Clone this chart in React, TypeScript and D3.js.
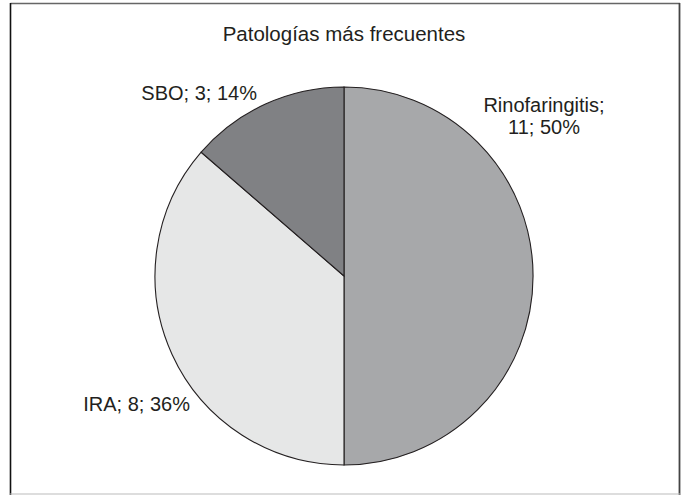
import React from "react";
import * as d3 from "d3";

const categories = ["Rinofaringitis", "IRA", "SBO"];
const values = [11, 8, 3];
const percentLabels = ["50%", "36%", "14%"];
const colors = ["#a7a8aa", "#e6e7e7", "#808184"];
const title = "Patologías más frecuentes";

const W = 686;
const H = 495;

export default function App() {
  const cx = 344;
  const cy = 276;
  const r = 189;
  const pie = d3
    .pie<number>()
    .sort(null)
    .value((d) => d)(values);
  const arc = d3.arc<d3.PieArcDatum<number>>().innerRadius(0).outerRadius(r);

  const font = "'Liberation Sans', Arial, Helvetica, sans-serif";
  const fs = 20;

  return (
    <svg
      width={W}
      height={H}
      style={{ position: "absolute", left: 0, top: 0, background: "#fff" }}
    >
      <rect x={0} y={0} width={W} height={H} fill="#fff" />
      <line x1={10.5} y1={3.5} x2={680} y2={3.5} stroke="#666" strokeWidth={1.5} />
      <line x1={10.5} y1={3} x2={10.5} y2={495} stroke="#111" strokeWidth={1.6} />
      <line x1={679.5} y1={3} x2={679.5} y2={495} stroke="#444" strokeWidth={1.8} />
      <line x1={10} y1={494} x2={680} y2={494} stroke="#bbb" strokeWidth={1.2} />
      <text
        x={344}
        y={41}
        textAnchor="middle"
        fontFamily={font}
        fontSize={20.5}
        fill="#231f20"
      >
        {title}
      </text>
      <g transform={`translate(${cx},${cy})`}>
        {pie.map((p, i) => (
          <path
            key={categories[i]}
            d={arc(p) || ""}
            fill={colors[i]}
            stroke="#231f20"
            strokeWidth={1.1}
          />
        ))}
      </g>
      <g fontFamily={font} fontSize={fs} fill="#231f20">
        <text x={544} y={112} textAnchor="middle">
          <tspan x={544}>{categories[0]};</tspan>
          <tspan x={544} dy={21.5}>
            {values[0]}; {percentLabels[0]}
          </tspan>
        </text>
        <text x={190} y={411} textAnchor="end">
          {categories[1]}; {values[1]}; {percentLabels[1]}
        </text>
        <text x={257} y={100} textAnchor="end">
          {categories[2]}; {values[2]}; {percentLabels[2]}
        </text>
      </g>
    </svg>
  );
}
